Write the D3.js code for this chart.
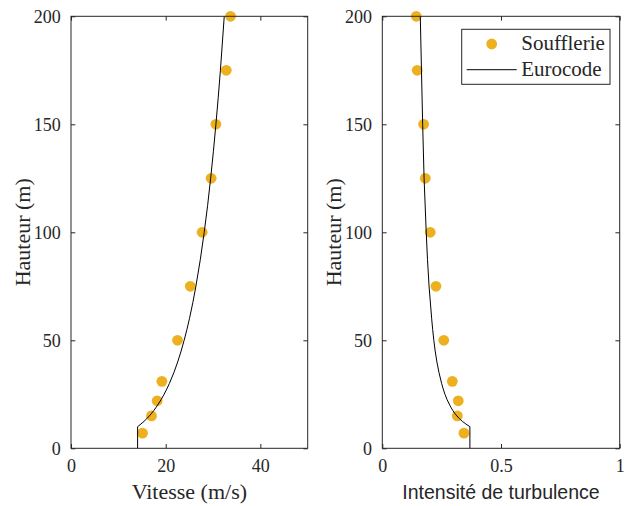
<!DOCTYPE html>
<html>
<head>
<meta charset="utf-8">
<script src="https://cdn.jsdelivr.net/npm/d3@7"></script>
<style>
  body { margin: 0; background: #fff; }
  svg { display: block; }
</style>
</head>
<body>
<script>
var w = 626, h = 506;

// wind tunnel measurements
var hauteurSouff = [7, 15, 22, 31, 50, 75, 100, 125, 150, 175, 200];
var vitesseSouff = [15.1, 17.0, 18.2, 19.2, 22.5, 25.2, 27.7, 29.6, 30.6, 32.8, 33.7];
var intensiteSouff = [0.344, 0.316, 0.320, 0.295, 0.259, 0.226, 0.202, 0.181, 0.174, 0.147, 0.143];

// eurocode profile
var hauteurEC = [0, 10, 12.5, 15, 20, 25, 30, 40, 50, 60, 75, 100, 125, 150, 175, 200];
var vitesseEC = [14.07, 14.07, 15.43, 16.55, 18.30, 19.67, 20.78, 22.54, 23.90, 25.02, 26.38, 28.14, 29.50, 30.61, 31.56, 32.37];
var intensiteEC = [0.369, 0.369, 0.337, 0.314, 0.284, 0.264, 0.250, 0.230, 0.217, 0.208, 0.197, 0.185, 0.176, 0.170, 0.165, 0.160];

var ticksY = [0, 50, 100, 150, 200];
var ticksVitesse = [0, 20, 40];
var ticksIntensite = [0, 0.5, 1];
var legendLabels = ["Soufflerie", "Eurocode"];

var orange = "#EDB120";
var axisCol = "#262626";
var serifFont = "'Liberation Serif', 'Times New Roman', serif";
var sansFont = "'Liberation Sans', Arial, sans-serif";
var top0 = 16.3, bottom0 = 448.3;

var svg = d3.select("body").append("svg")
    .attr("width", w)
    .attr("height", h);

function drawPanel(opts){
    var x = d3.scaleLinear().domain(opts.domain).range([opts.left, opts.right]);
    var y = d3.scaleLinear().domain([0, 200]).range([bottom0, top0]);
    var g = svg.append("g");

    var pts = opts.xs.map(function(v, i){ return {x: v, z: hauteurSouff[i]}; });
    g.selectAll("circle")
        .data(pts)
        .enter()
        .append("circle")
        .attr("cx", function(d){ return x(d.x); })
        .attr("cy", function(d){ return y(d.z); })
        .attr("r", 5.4)
        .style("fill", orange);

    // vertical part below z=10, then the smooth profile
    var ec = opts.ec.map(function(v, i){ return {x: v, z: hauteurEC[i]}; });
    var lowLine = d3.line().x(function(d){ return x(d.x); }).y(function(d){ return y(d.z); });
    var upLine = d3.line().x(function(d){ return x(d.x); }).y(function(d){ return y(d.z); })
        .curve(d3.curveMonotoneY);
    g.append("path")
        .attr("d", lowLine(ec.slice(0, 2)) + upLine(ec.slice(1)).replace(/^M[^CL]*/, ""))
        .style("fill", "none")
        .style("stroke", "#000")
        .style("stroke-width", 1);

    // box
    g.append("rect")
        .attr("x", opts.left)
        .attr("y", top0)
        .attr("width", opts.right - opts.left)
        .attr("height", bottom0 - top0)
        .style("fill", "none")
        .style("stroke", axisCol)
        .style("stroke-width", 1);

    var tl = 4.3;
    var axB = d3.axisBottom(x).tickValues(opts.ticks).tickSize(-tl).tickPadding(tl + 7)
        .tickFormat(d3.format("")).tickSizeOuter(0);
    var axT = d3.axisTop(x).tickValues(opts.ticks).tickSize(-tl).tickFormat("").tickSizeOuter(0);
    var axL = d3.axisLeft(y).tickValues(ticksY).tickSize(-tl).tickPadding(tl + 6).tickSizeOuter(0);
    var axR = d3.axisRight(y).tickValues(ticksY).tickSize(-tl).tickFormat("").tickSizeOuter(0);

    [[axB, "translate(0," + bottom0 + ")"], [axT, "translate(0," + top0 + ")"],
     [axL, "translate(" + opts.left + ",0)"], [axR, "translate(" + opts.right + ",0)"]].forEach(function(a){
        var s = g.append("g").attr("transform", a[1]).call(a[0])
            .attr("font-family", serifFont)
            .attr("font-size", 18);
        s.select(".domain").remove();
        s.selectAll("line").style("stroke", axisCol);
        s.selectAll("text")
            .style("font-family", serifFont)
            .style("font-size", "18px")
            .style("fill", axisCol);
    });

    g.append("text")
        .attr("transform", "translate(" + (opts.left - 41) + "," + ((top0 + bottom0) / 2) + ") rotate(-90)")
        .attr("text-anchor", "middle")
        .style("font-family", serifFont)
        .style("font-size", "22px")
        .style("fill", axisCol)
        .text("Hauteur (m)");

    g.append("text")
        .attr("x", (opts.left + opts.right) / 2)
        .attr("y", 499)
        .attr("text-anchor", "middle")
        .style("font-family", opts.sans ? sansFont : serifFont)
        .style("font-size", opts.sans ? "19.5px" : "22px")
        .style("fill", axisCol)
        .text(opts.label);
}

drawPanel({left: 71, right: 307.7, domain: [0, 50], ticks: ticksVitesse,
    xs: vitesseSouff, ec: vitesseEC, label: "Vitesse (m/s)"});
drawPanel({left: 382.3, right: 619.7, domain: [0, 1], ticks: ticksIntensite,
    xs: intensiteSouff, ec: intensiteEC, label: "Intensité de turbulence", sans: true});

// legend
var lg = svg.append("g").attr("transform", "translate(461.7,29.3)");
lg.append("rect")
    .attr("width", 148.3)
    .attr("height", 55)
    .style("fill", "#fff")
    .style("stroke", axisCol)
    .style("stroke-width", 1);
lg.append("circle")
    .attr("cx", 30)
    .attr("cy", 14.7)
    .attr("r", 5.4)
    .style("fill", orange);
lg.append("line")
    .attr("x1", 5).attr("x2", 55)
    .attr("y1", 40.4).attr("y2", 40.4)
    .style("stroke", "#000")
    .style("stroke-width", 1);
lg.selectAll("text.lbl")
    .data(legendLabels)
    .enter()
    .append("text")
    .attr("class", "lbl")
    .attr("x", 59.5)
    .attr("y", function(d, i){ return i === 0 ? 21 : 46.3; })
    .style("font-family", serifFont)
    .style("font-size", "21px")
    .style("fill", axisCol)
    .text(function(d){ return d; });
</script>
</body>
</html>
